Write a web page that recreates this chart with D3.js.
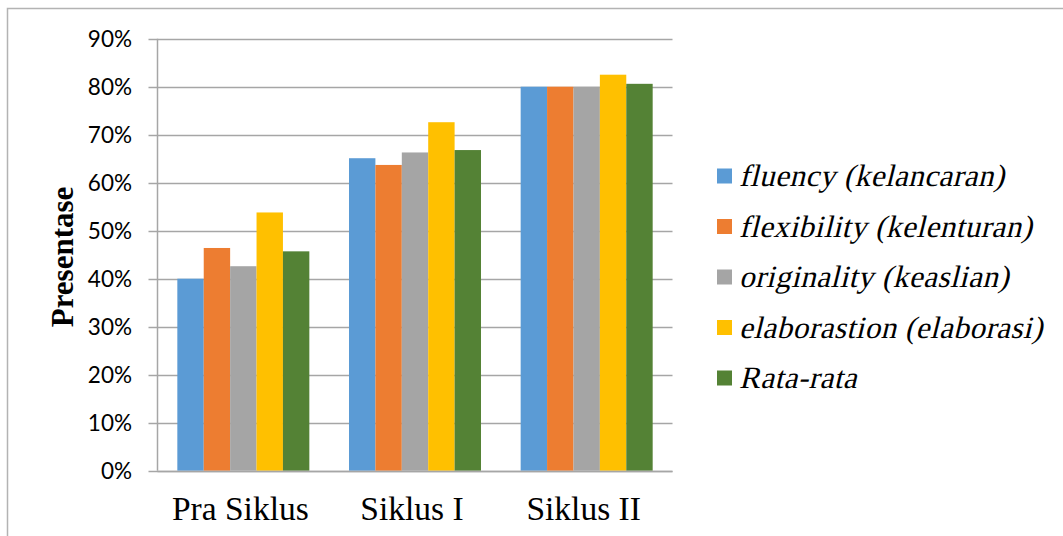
<!DOCTYPE html>
<html>
<head>
<meta charset="utf-8">
<script src="https://cdn.jsdelivr.net/npm/d3@7"></script>
<style>
  html, body { margin: 0; padding: 0; background: #fff; }
  svg { display: block; }
</style>
</head>
<body>
<svg id="chart" width="1063" height="536"></svg>
<script>
const categories = ["Pra Siklus", "Siklus I", "Siklus II"];
const seriesNames = ["fluency (kelancaran)", "flexibility (kelenturan)", "originality (keaslian)", "elaborastion (elaborasi)", "Rata-rata"];
const fluency = [40.0, 65.1, 80.0];
const flexibility = [46.4, 63.7, 80.0];
const originality = [42.6, 66.3, 80.0];
const elaboration = [53.8, 72.6, 82.5];
const rataRata = [45.7, 66.8, 80.6];
const yTicks = [0, 10, 20, 30, 40, 50, 60, 70, 80, 90];
const colors = ["#5b9bd5", "#ed7d31", "#a5a5a5", "#ffc000", "#548235"];

const seriesValues = [fluency, flexibility, originality, elaboration, rataRata];

const svg = d3.select("#chart");
const serif = "'Liberation Serif', 'Times New Roman', Times, serif";

// outer border
svg.append("rect")
  .attr("x", 7.5).attr("y", 8.5)
  .attr("width", 1070).attr("height", 540)
  .attr("fill", "none").attr("stroke", "#b3b3b3").attr("stroke-width", 1.5);

const plotL = 157.5, plotR = 672.5, plotT = 38.7, plotB = 470.7;

const y = d3.scaleLinear().domain([0, 90]).range([plotB, plotT]);
const x0 = d3.scaleBand().domain(categories).range([plotL, plotR])
  .paddingInner(0.231).paddingOuter(0.1155);
const x1 = d3.scaleBand().domain(d3.range(seriesNames.length)).range([0, x0.bandwidth()]);

// gridlines
svg.append("g").selectAll("line").data(yTicks).join("line")
  .attr("x1", plotL - 9).attr("x2", plotR)
  .attr("y1", d => Math.round(y(d)) + 0.5).attr("y2", d => Math.round(y(d)) + 0.5)
  .attr("stroke", "#a6a6a6").attr("stroke-width", 1.5);

// y axis line
svg.append("line")
  .attr("x1", plotL).attr("x2", plotL)
  .attr("y1", y(90)).attr("y2", y(0))
  .attr("stroke", "#a6a6a6").attr("stroke-width", 1.5);

// y tick labels
svg.append("g").selectAll("text").data(yTicks).join("text")
  .attr("x", 132).attr("y", d => y(d))
  .attr("dy", "0.36em")
  .attr("text-anchor", "end")
  .attr("font-family", "Lato, 'Open Sans', sans-serif")
  .attr("font-size", 22.5)
  .attr("fill", "#000")
  .text(d => d + "%");

// bars
const groups = svg.append("g").selectAll("g").data(categories).join("g")
  .attr("transform", c => `translate(${x0(c)},0)`);
groups.selectAll("rect")
  .data((c, ci) => seriesValues.map((s, si) => ({si, v: s[ci]})))
  .join("rect")
  .attr("x", d => x1(d.si))
  .attr("width", x1.bandwidth())
  .attr("y", d => y(d.v))
  .attr("height", d => y(0) - y(d.v))
  .attr("fill", d => colors[d.si]);

// x axis line on top of bars
svg.append("line")
  .attr("x1", plotL).attr("x2", plotR)
  .attr("y1", Math.round(y(0)) + 0.5).attr("y2", Math.round(y(0)) + 0.5)
  .attr("stroke", "#a6a6a6").attr("stroke-width", 1.5);

// category labels
svg.append("g").selectAll("text").data(categories).join("text")
  .attr("x", c => x0(c) + x0.bandwidth() / 2 - 3)
  .attr("y", 520)
  .attr("text-anchor", "middle")
  .attr("font-family", serif)
  .attr("font-size", 33.5)
  .attr("fill", "#000")
  .text(c => c);

// y axis title
svg.append("text")
  .attr("transform", "translate(73,257) rotate(-90)")
  .attr("text-anchor", "middle")
  .attr("font-family", serif)
  .attr("font-weight", "bold")
  .attr("font-size", 31)
  .attr("fill", "#000")
  .text("Presentase");

// legend
const legend = svg.append("g").selectAll("g").data(seriesNames).join("g")
  .attr("transform", (d, i) => `translate(717,${176 + i * 50.5})`);
legend.append("rect")
  .attr("x", 0).attr("y", -7.5).attr("width", 15).attr("height", 15)
  .attr("fill", (d, i) => colors[i]);
legend.append("text")
  .attr("transform", "translate(22,10) skewX(-14)")
  .attr("x", 0).attr("y", 0)
  .attr("font-family", serif)
  .attr("font-size", 31)
  .attr("letter-spacing", 0.5)
  .attr("fill", "#000")
  .text(d => d);
</script>
</body>
</html>
